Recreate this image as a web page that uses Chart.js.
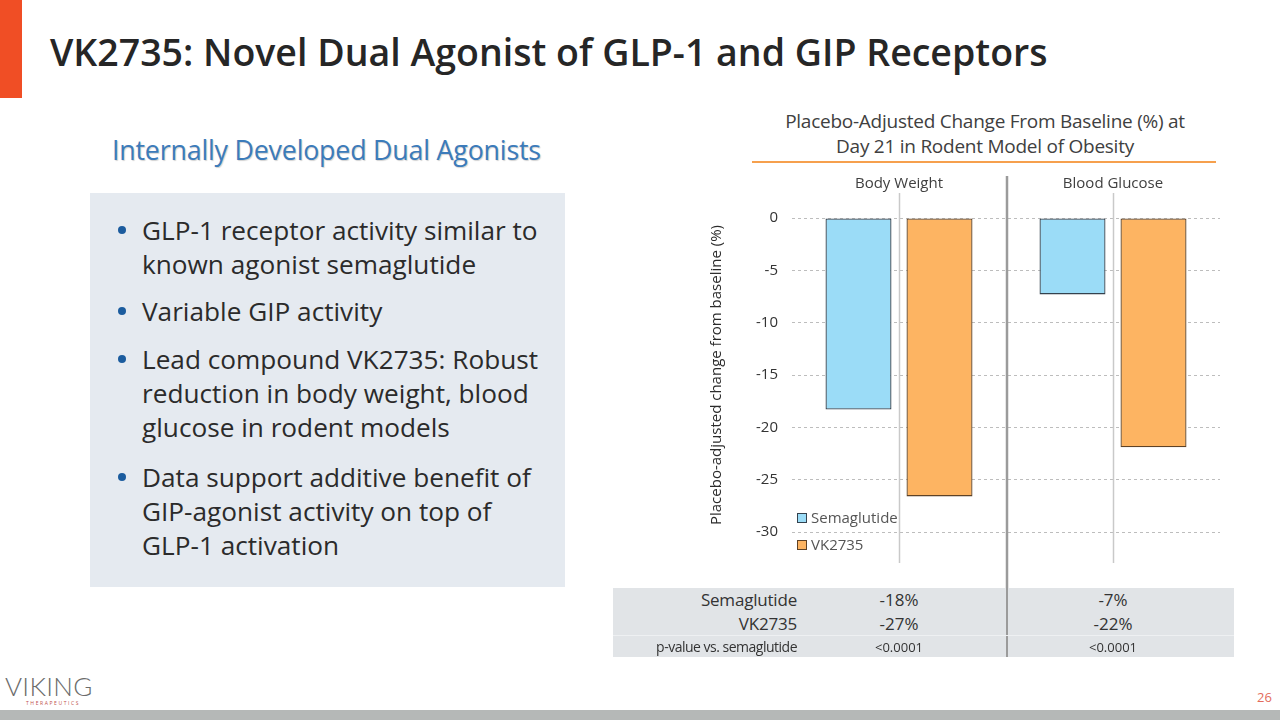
<!DOCTYPE html>
<html><head><meta charset="utf-8">
<script src="https://cdn.jsdelivr.net/npm/chart.js@4"></script>
<style>
body{margin:0;width:1280px;height:720px;position:relative;overflow:hidden;background:#fff;font-family:"Open Sans",sans-serif;}
.abs{position:absolute;}
#redbar{left:0;top:0;width:22px;height:98px;background:#F04E25;}
#title{left:50px;top:28px;font-size:37.5px;font-weight:600;color:#262626;white-space:nowrap;line-height:48px;letter-spacing:0px;}
#sub{left:112px;top:131px;font-size:26.8px;color:#3C7BBA;line-height:38px;text-shadow:1px 1px 1px rgba(0,0,0,0.18);white-space:nowrap;letter-spacing:-0.2px;}
#box{left:90px;top:193px;width:475px;height:394px;background:#E5EAF0;}
.para{position:absolute;left:142px;font-size:26.2px;line-height:34px;color:#2b2b2b;white-space:nowrap;letter-spacing:0px;}
.dot{position:absolute;left:118px;width:8px;height:8px;border-radius:50%;background:#1B5C9E;}
#ctitle{left:735px;top:109px;width:500px;text-align:center;font-size:19px;line-height:25px;color:#404040;letter-spacing:-0.25px;}
#uline{left:752px;top:161px;width:464px;height:2px;background:#F6A04D;}
#wrap{left:690px;top:170px;width:550px;height:420px;}
#table{left:613px;top:588px;width:621px;height:69px;background:#E1E4E7;}
.cell{position:absolute;color:#333;white-space:nowrap;}
#logo{left:5px;top:670px;font-family:Lato,sans-serif;font-weight:300;font-size:26px;color:#6b6b6b;letter-spacing:0.3px;}
#logosub{left:26px;top:700px;font-size:5px;color:#C0504D;letter-spacing:1.6px;}
#page{left:1257px;top:688px;font-size:13px;color:#E36C5C;}
#foot{left:0;top:710px;width:1280px;height:10px;background:#B5B8B7;}
</style></head>
<body>
<div id="redbar" class="abs"></div>
<div id="title" class="abs">VK2735: Novel Dual Agonist of GLP-1 and GIP Receptors</div>
<div id="sub" class="abs">Internally Developed Dual Agonists</div>
<div id="box" class="abs"></div>
<div class="dot" style="top:226px"></div>
<div class="para" style="top:213px">GLP-1 receptor activity similar to<br>known agonist semaglutide</div>
<div class="dot" style="top:307px"></div>
<div class="para" style="top:294px">Variable GIP activity</div>
<div class="dot" style="top:355px"></div>
<div class="para" style="top:342px">Lead compound VK2735: Robust<br>reduction in body weight, blood<br>glucose in rodent models</div>
<div class="dot" style="top:473px"></div>
<div class="para" style="top:460px">Data support additive benefit of<br>GIP-agonist activity on top of<br>GLP-1 activation</div>

<div id="ctitle" class="abs">Placebo-Adjusted Change From Baseline (%) at<br>Day 21 in Rodent Model of Obesity</div>
<div id="uline" class="abs"></div>
<div id="wrap" class="abs"><canvas id="c" width="550" height="420"></canvas></div>
<div id="table" class="abs"></div>

<div id="logo" class="abs">VIKING</div>
<div id="logosub" class="abs">THERAPEUTICS</div>
<div id="page" class="abs">26</div>
<div id="foot" class="abs"></div>

<script>
const categories = ['Body Weight', 'Blood Glucose'];
const seriesNames = ['Semaglutide', 'VK2735'];
const semaglutide = [-18.3, -7.3];
const vk2735 = [-26.6, -21.9];
const yMin = -30, yMax = 0, yStep = 5;
const yTitle = 'Placebo-adjusted change from baseline (%)';
const tableRowLabels = ['Semaglutide', 'VK2735', 'p-value vs. semaglutide'];
const tableSema = ['-18%', '-7%'];
const tableVK = ['-27%', '-22%'];
const tablePValues = ['<0.0001', '<0.0001'];

const FONT = '"Open Sans", sans-serif';

const decor = {
  id: 'decor',
  beforeDatasetsDraw(chart) {
    const {ctx, chartArea} = chart;
    const x = chart.scales.x;
    ctx.save();
    ctx.strokeStyle = '#c9c9c9'; ctx.lineWidth = 1.5;
    categories.forEach((c, i) => {
      const px = Math.round(x.getPixelForValue(i)) + 0.5;
      ctx.beginPath(); ctx.moveTo(px, chartArea.top - 25); ctx.lineTo(px, chartArea.bottom + 31); ctx.stroke();
    });
    ctx.strokeStyle = '#9b9b9b'; ctx.lineWidth = 2.5;
    for (let i = 0; i < categories.length - 1; i++) {
      const px = (x.getPixelForValue(i) + x.getPixelForValue(i + 1)) / 2 + 1;
      ctx.beginPath(); ctx.moveTo(px, chartArea.top - 42); ctx.lineTo(px, chart.height); ctx.stroke();
    }
    ctx.restore();
  },
  afterDatasetsDraw(chart) {
    const {ctx, chartArea} = chart;
    ctx.save();
    chart.data.datasets.forEach((ds, i) => {
      const y = chartArea.bottom - 14 + i * 27;
      const x0 = chartArea.left + 5;
      ctx.fillStyle = ds.backgroundColor;
      ctx.fillRect(x0, y - 5, 10, 10);
      ctx.strokeStyle = ds.borderColor; ctx.lineWidth = 1;
      ctx.strokeRect(x0 + 0.5, y - 4.5, 9, 9);
      ctx.fillStyle = '#555';
      ctx.font = '15px ' + FONT;
      ctx.textBaseline = 'middle';
      ctx.fillText(ds.label, x0 + 14, y + 1);
    });
    ctx.restore();
  }
};

const chart = new Chart(document.getElementById('c'), {
  type: 'bar',
  data: {
    labels: categories,
    datasets: [
      { label: seriesNames[0], data: semaglutide, backgroundColor: '#9BDCF7', borderColor: '#34424e', borderWidth: 1.3, borderSkipped: false, categoryPercentage: 0.757, barPercentage: 0.815 },
      { label: seriesNames[1], data: vk2735, backgroundColor: '#FDB462', borderColor: '#5e4226', borderWidth: 1.3, borderSkipped: false, categoryPercentage: 0.757, barPercentage: 0.815 }
    ]
  },
  options: {
    responsive: false,
    animation: false,
    layout: { padding: { left: 15, right: 20, top: 0, bottom: 58 } },
    plugins: { legend: { display: false }, tooltip: { enabled: false }, title: { display: false } },
    scales: {
      x: {
        position: 'top',
        grid: { display: false, drawTicks: false },
        border: { display: false },
        ticks: { font: { family: FONT, size: 15 }, color: '#404040', padding: 25 },
        afterFit(s) { s.height = 48; }
      },
      y: {
        min: yMin, max: yMax,
        grid: { color: '#bdbdbd', lineWidth: 1, drawTicks: false },
        border: { display: false, dash: [3, 3] },
        ticks: { stepSize: yStep, font: { family: FONT, size: 15 }, color: '#333', padding: 14 },
        title: { display: true, text: yTitle, font: { family: FONT, size: 15 }, color: '#2b2b2b', padding: { top: 3, bottom: 4 } },
        afterFit(s) { s.width = 87; }
      }
    }
  },
  plugins: [decor]
});

// Build the data table aligned to the chart's category positions
(function () {
  const table = document.getElementById('table');
  const wrapLeft = 690, tableLeft = 613;
  const x = chart.scales.x;
  const labelRight = chart.chartArea.left + 5 + wrapLeft - tableLeft;
  const rows = [tableSema, tableVK, tablePValues];
  const rowCenters = [12, 36, 59];
  const sizes = [17, 17, 14];
  const divX = (x.getPixelForValue(0) + x.getPixelForValue(1)) / 2 + 1 + wrapLeft - tableLeft;
  const d = document.createElement('div');
  d.style.cssText = `position:absolute;left:${divX - 1.25}px;top:0;width:2.5px;height:69px;background:#9b9b9b;`;
  table.appendChild(d);
  const sep = document.createElement('div');
  sep.style.cssText = 'position:absolute;left:0;top:47px;width:621px;height:1px;background:#eef0f2;';
  table.appendChild(sep);
  rows.forEach((vals, r) => {
    const lh = 24;
    const lab = document.createElement('div');
    lab.className = 'cell';
    lab.textContent = tableRowLabels[r];
    lab.style.cssText += `right:${621 - labelRight}px;top:${rowCenters[r] - lh / 2}px;line-height:${lh}px;font-size:${sizes[r]}px;letter-spacing:${r === 2 ? -0.5 : -0.2}px;`;
    table.appendChild(lab);
    vals.forEach((v, i) => {
      const cx = x.getPixelForValue(i) + wrapLeft - tableLeft;
      const c = document.createElement('div');
      c.className = 'cell';
      c.textContent = v;
      c.style.cssText += `left:${cx - 60}px;width:120px;text-align:center;top:${rowCenters[r] - lh / 2}px;line-height:${lh}px;font-size:${r === 2 ? 13 : sizes[r]}px;`;
      table.appendChild(c);
    });
  });
})();
</script>
</body></html>
